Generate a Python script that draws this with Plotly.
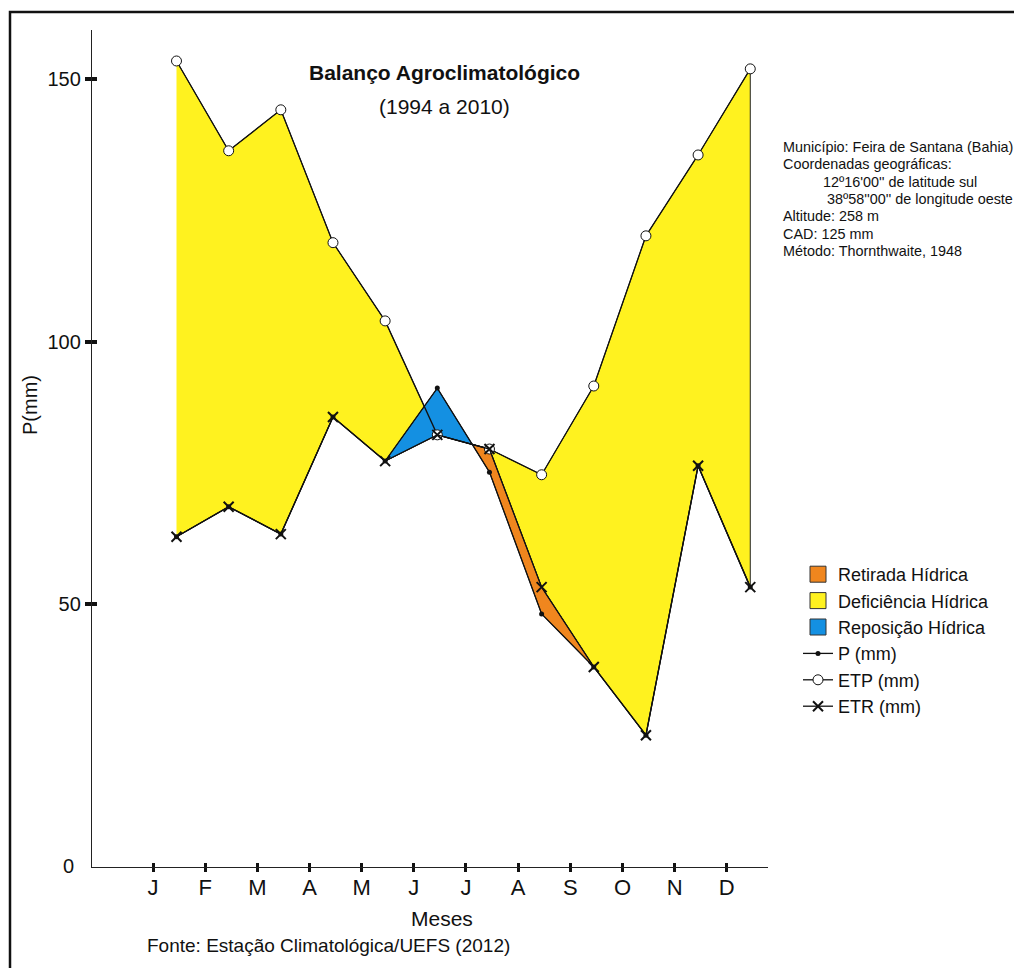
import numpy as np
import plotly.graph_objects as go

months = ["J", "F", "M", "A", "M", "J", "J", "A", "S", "O", "N", "D"]
etp = [153.5, 136.4, 144.2, 118.9, 104.0, 82.3, 79.6, 74.7, 91.6, 120.2, 135.6, 152.0]
etr = [62.9, 68.6, 63.4, 85.7, 77.3, 82.3, 79.6, 53.3, 38.1, 25.1, 76.4, 53.3]
p = [62.9, 68.6, 63.4, 85.7, 77.3, 91.2, 75.2, 48.2, 38.1, 25.1, 76.4, 53.3]
y_ticks = [50, 100, 150]

info_lines = [
    "Município: Feira de Santana (Bahia)",
    "Coordenadas geográficas:",
    "          12º16'00'' de latitude sul",
    "           38º58''00'' de longitude oeste",
    "Altitude: 258 m",
    "CAD: 125 mm",
    "Método: Thornthwaite, 1948",
]

YELLOW = "#FFF21F"
BLUE = "#1490E2"
ORANGE = "#F0861E"
FONT = "Liberation Sans, Arial, sans-serif"

# page body has an 8px margin; figure placed at (8, 8) on screen
OFF = 8
W, H = 1022 - OFF, 968 - OFF
L, R, T, B = 92, 768, 30, 867   # plot area, screen pixels


def px(xp):
    return (xp - L) / (R - L)


def py(yp):
    return (B - yp) / (B - T)


x_off = 0.45
x = np.arange(len(months)) + x_off
P = np.array(p, float)
E = np.array(etr, float)

# insert crossing points between P and ETR
xa, pa, ea = [x[0]], [P[0]], [E[0]]
for i in range(len(x) - 1):
    d0, d1 = P[i] - E[i], P[i + 1] - E[i + 1]
    if d0 * d1 < 0:
        t = d0 / (d0 - d1)
        xc = x[i] + t * (x[i + 1] - x[i])
        yc = E[i] + t * (E[i + 1] - E[i])
        xa.append(xc); pa.append(yc); ea.append(yc)
    xa.append(x[i + 1]); pa.append(P[i + 1]); ea.append(E[i + 1])
xa, pa, ea = np.array(xa), np.array(pa), np.array(ea)


def regions(sign):
    d = (pa - ea) * sign
    n = len(xa)
    idx = [i for i in range(n) if d[i] > 1e-9]
    groups = []
    for i in idx:
        if groups and i == groups[-1][-1] + 1:
            groups[-1].append(i)
        else:
            groups.append([i])
    polys = []
    for g in groups:
        s, e = max(g[0] - 1, 0), min(g[-1] + 1, n - 1)
        xs = list(xa[s:e + 1]) + list(xa[s:e + 1][::-1])
        ys = list(pa[s:e + 1]) + list(ea[s:e + 1][::-1])
        polys.append((xs, ys))
    return polys


fig = go.Figure()

# yellow: deficit between ETP and ETR
fig.add_trace(go.Scatter(
    x=list(x) + list(x[::-1]), y=list(etp) + list(etr[::-1]),
    fill="toself", fillcolor=YELLOW, mode="lines",
    line=dict(color="#222", width=1), showlegend=False, hoverinfo="skip"))
for xs, ys in regions(1):
    fig.add_trace(go.Scatter(x=xs, y=ys, fill="toself", fillcolor=BLUE, mode="lines",
                             line=dict(color="#222", width=1), showlegend=False, hoverinfo="skip"))
for xs, ys in regions(-1):
    fig.add_trace(go.Scatter(x=xs, y=ys, fill="toself", fillcolor=ORANGE, mode="lines",
                             line=dict(color="#222", width=1), showlegend=False, hoverinfo="skip"))

# legend entries for fills
for name, col, rank in [("Retirada Hídrica", ORANGE, 1), ("Deficiência Hídrica", YELLOW, 2),
                        ("Reposição Hídrica", BLUE, 3)]:
    fig.add_trace(go.Scatter(x=[None], y=[None], mode="markers", name=name, legendrank=rank,
                             marker=dict(symbol="square", size=22, color=col,
                                         line=dict(color="#333", width=1))))

fig.add_trace(go.Scatter(x=x, y=p, mode="lines+markers", name="P (mm)", legendrank=4,
                         line=dict(color="#111", width=1.3),
                         marker=dict(symbol="circle", size=5, color="#111")))
fig.add_trace(go.Scatter(x=x, y=etp, mode="lines+markers", name="ETP (mm)", legendrank=5,
                         line=dict(color="#111", width=1.3),
                         marker=dict(symbol="circle", size=10, color="white",
                                     line=dict(color="#111", width=1))))
fig.add_trace(go.Scatter(x=x, y=etr, mode="lines+markers", name="ETR (mm)", legendrank=6,
                         line=dict(color="#111", width=1.3),
                         marker=dict(symbol="x-thin", size=10, color="#111",
                                     line=dict(color="#111", width=2))))

# overlay axes only to draw tick marks on the other side of the axis lines
fig.add_trace(go.Scatter(x=[None], y=[None], xaxis="x2", yaxis="y2", showlegend=False,
                         hoverinfo="skip"))

annotations = [
    dict(text="<b>Balanço Agroclimatológico</b>", x=px(444), y=py(73), font=dict(size=21)),
    dict(text="(1994 a 2010)", x=px(444), y=py(106), font=dict(size=21)),
    dict(text="Meses", x=px(442), y=py(918), font=dict(size=21)),
    dict(text="P(mm)", x=px(30), y=py(405), font=dict(size=20), textangle=-90),
    dict(text="Fonte: Estação Climatológica/UEFS (2012)", x=px(145), y=py(945),
         xanchor="left", font=dict(size=19)),
    dict(text="0", x=px(76), y=py(866), xanchor="right", font=dict(size=20)),
]
for i, line in enumerate(info_lines):
    annotations.append(dict(text=line.replace(" ", "&nbsp;") if line.startswith(" ") else line,
                            x=px(781), y=py(147 + i * 17.3), xanchor="left",
                            font=dict(size=14.4)))
for a in annotations:
    a.update(xref="paper", yref="paper", showarrow=False)
    a.setdefault("xanchor", "center")
    a["yanchor"] = "middle"
    a["font"].update(family=FONT, color="#111")

xr = [-1.17, 11.79]
yr = [0, 159.4]
fig.update_layout(
    width=W, height=H,
    margin=dict(l=L - OFF, r=1022 - R, t=T - OFF, b=968 - B),
    paper_bgcolor="white", plot_bgcolor="white",
    font=dict(family=FONT, color="#111"),
    annotations=annotations,
    legend=dict(x=px(798), y=py(556), xanchor="left", yanchor="top",
                font=dict(size=18, family=FONT), bgcolor="rgba(0,0,0,0)",
                itemwidth=30, tracegroupgap=0),
    shapes=[dict(type="rect", xref="paper", yref="paper", x0=px(10), x1=px(1060),
                 y0=py(1000), y1=py(12), line=dict(color="#111", width=2.5),
                 fillcolor="rgba(0,0,0,0)", layer="below")],
    xaxis=dict(range=xr, tickvals=list(range(12)), ticktext=months,
               showgrid=False, zeroline=False, showline=True, linecolor="#222", linewidth=1.3,
               ticks="inside", ticklen=4, tickwidth=2.5, tickcolor="#111",
               tickfont=dict(size=22, family=FONT, color="#111")),
    yaxis=dict(range=yr, tickvals=y_ticks,
               showgrid=False, zeroline=False, showline=True, linecolor="#222", linewidth=1.3,
               ticks="outside", ticklen=6, tickwidth=4, tickcolor="#111",
               tickfont=dict(size=20, family=FONT, color="#111")),
    xaxis2=dict(range=xr, overlaying="x", side="bottom", tickvals=list(range(12)),
                showticklabels=False, showgrid=False, zeroline=False, showline=False,
                ticks="outside", ticklen=4, tickwidth=2.5, tickcolor="#111"),
    yaxis2=dict(range=yr, overlaying="y", side="left", tickvals=y_ticks,
                showticklabels=False, showgrid=False, zeroline=False, showline=False,
                ticks="inside", ticklen=5, tickwidth=4, tickcolor="#111"),
)

fig.write_html("out.html")
